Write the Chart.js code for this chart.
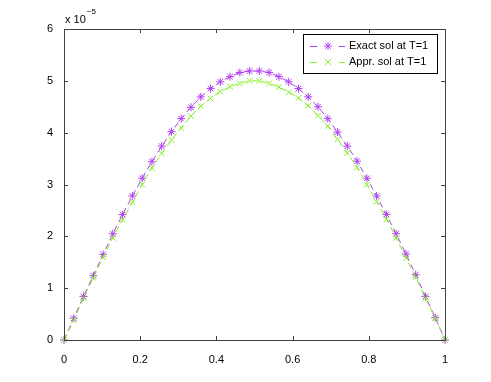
<!DOCTYPE html>
<html>
<head>
<meta charset="utf-8">
<script src="https://cdn.jsdelivr.net/npm/chart.js@4"></script>
<style>
  html, body { margin: 0; padding: 0; background: #fff; }
  #wrap { width: 491px; height: 382px; position: relative; }
</style>
</head>
<body>
<div id="wrap"><canvas id="solChart"></canvas></div>
<script>
// grid points in x (40 nodes on [0,1])
const xs = [0, 0.0256, 0.0513, 0.0769, 0.1026, 0.1282, 0.1538, 0.1795, 0.2051, 0.2308,
    0.2564, 0.2821, 0.3077, 0.3333, 0.3590, 0.3846, 0.4103, 0.4359, 0.4615, 0.4872,
    0.5128, 0.5385, 0.5641, 0.5897, 0.6154, 0.6410, 0.6667, 0.6923, 0.7179, 0.7436,
    0.7692, 0.7949, 0.8205, 0.8462, 0.8718, 0.8974, 0.9231, 0.9487, 0.9744, 1];

// values in units of 1e-5
const exactSol = [0, 0.42, 0.84, 1.24, 1.65, 2.05, 2.42, 2.78, 3.12, 3.44,
    3.74, 4.02, 4.27, 4.49, 4.69, 4.85, 4.98, 5.08, 5.16, 5.19,
    5.19, 5.16, 5.08, 4.98, 4.85, 4.69, 4.50, 4.27, 4.01, 3.74,
    3.45, 3.12, 2.78, 2.42, 2.05, 1.66, 1.26, 0.84, 0.43, 0];
const apprSol = [0, 0.38, 0.81, 1.20, 1.60, 1.97, 2.32, 2.66, 3.00, 3.32,
    3.60, 3.86, 4.09, 4.32, 4.51, 4.66, 4.79, 4.89, 4.95, 5.00,
    5.00, 4.95, 4.88, 4.78, 4.67, 4.52, 4.33, 4.13, 3.87, 3.61,
    3.33, 3.00, 2.67, 2.33, 1.97, 1.58, 1.21, 0.81, 0.42, 0];

const xTicks = [0, 0.2, 0.4, 0.6, 0.8, 1];
const yTicks = [0, 1, 2, 3, 4, 5, 6];
const seriesNames = ['Exact sol at T=1', 'Appr. sol at T=1'];

const FONT = '"Liberation Sans", Arial, sans-serif';
const exactColor = '#b040f0';
const apprColor = '#80f020';

function toPoints(vals) {
    return xs.map((x, i) => ({ x: x, y: vals[i] }));
}

// MATLAB-like box with inward ticks, the x10^-5 note and the legend
const matlabAxes = {
    id: 'matlabAxes',
    afterDraw(chart) {
        const c = chart.ctx;
        const a = chart.chartArea;
        const sx = chart.scales.x, sy = chart.scales.y;
        c.save();
        c.strokeStyle = '#404040';
        c.lineWidth = 1;
        c.strokeRect(Math.round(a.left) + 0.5, Math.round(a.top) + 0.5,
            Math.round(a.right - a.left), Math.round(a.bottom - a.top));
        c.beginPath();
        xTicks.forEach(v => {
            const px = Math.round(sx.getPixelForValue(v)) + 0.5;
            c.moveTo(px, a.bottom); c.lineTo(px, a.bottom - 4);
            c.moveTo(px, a.top); c.lineTo(px, a.top + 4);
        });
        yTicks.forEach(v => {
            const py = Math.round(sy.getPixelForValue(v)) + 0.5;
            c.moveTo(a.left, py); c.lineTo(a.left + 4, py);
            c.moveTo(a.right, py); c.lineTo(a.right - 4, py);
        });
        c.stroke();

        // exponent note
        c.fillStyle = '#000';
        c.textBaseline = 'alphabetic';
        c.textAlign = 'left';
        c.font = '11px ' + FONT;
        c.fillText('x 10', a.left + 1, a.top - 6);
        const w = c.measureText('x 10').width;
        c.font = '8px ' + FONT;
        c.fillText('\u22125', a.left + 2 + w, a.top - 15);

        // legend
        const lx = 303, ly = 34, lw = 134, lh = 39;
        c.fillStyle = '#fff';
        c.fillRect(lx, ly, lw, lh);
        c.strokeStyle = '#000';
        c.strokeRect(lx + 0.5, ly + 0.5, lw, lh);
        chart.data.datasets.forEach((ds, i) => {
            const yy = ly + 12 + i * 16;
            c.strokeStyle = ds.borderColor;
            c.lineWidth = 1;
            c.beginPath();
            c.moveTo(310, yy + 0.5); c.lineTo(317, yy + 0.5);
            c.moveTo(339, yy + 0.5); c.lineTo(345, yy + 0.5);
            c.stroke();
            Chart.helpers.drawPoint(c, {
                pointStyle: ds.pointStyle,
                radius: ds.pointRadius,
                borderWidth: ds.pointBorderWidth
            }, 328, yy);
            c.fillStyle = '#000';
            c.font = '11px ' + FONT;
            c.textBaseline = 'middle';
            c.fillText(ds.label, 349, yy);
        });
        c.restore();
    }
};

new Chart(document.getElementById('solChart'), {
    type: 'line',
    data: {
        datasets: [{
            label: seriesNames[0],
            data: toPoints(exactSol),
            borderColor: exactColor,
            backgroundColor: exactColor,
            pointBorderColor: exactColor,
            borderWidth: 1,
            borderDash: [6, 4],
            pointStyle: 'star',
            pointRadius: 4,
            pointBorderWidth: 1,
            clip: false,
            order: 2
        }, {
            label: seriesNames[1],
            data: toPoints(apprSol),
            borderColor: apprColor,
            backgroundColor: apprColor,
            pointBorderColor: apprColor,
            borderWidth: 1,
            borderDash: [6, 4],
            pointStyle: 'crossRot',
            pointRadius: 4,
            pointBorderWidth: 1,
            clip: false,
            order: 1
        }]
    },
    options: {
        responsive: true,
        maintainAspectRatio: false,
        animation: false,
        layout: { padding: { top: 29, right: 46, bottom: 0, left: 0 } },
        scales: {
            x: {
                type: 'linear',
                min: 0,
                max: 1,
                grid: { display: false },
                border: { display: false },
                afterFit: s => { s.height = 42; },
                afterBuildTicks: s => { s.ticks = xTicks.map(v => ({ value: v })); },
                ticks: {
                    color: '#000',
                    padding: 5,
                    maxRotation: 0,
                    font: { family: FONT, size: 11 },
                    callback: v => String(v)
                }
            },
            y: {
                min: 0,
                max: 6,
                grid: { display: false },
                border: { display: false },
                afterFit: s => { s.width = 64; },
                afterBuildTicks: s => { s.ticks = yTicks.map(v => ({ value: v })); },
                ticks: {
                    color: '#000',
                    padding: 3,
                    font: { family: FONT, size: 11 },
                    callback: v => String(v)
                }
            }
        },
        plugins: {
            legend: { display: false },
            tooltip: { enabled: false }
        }
    },
    plugins: [matlabAxes]
});
</script>
</body>
</html>
